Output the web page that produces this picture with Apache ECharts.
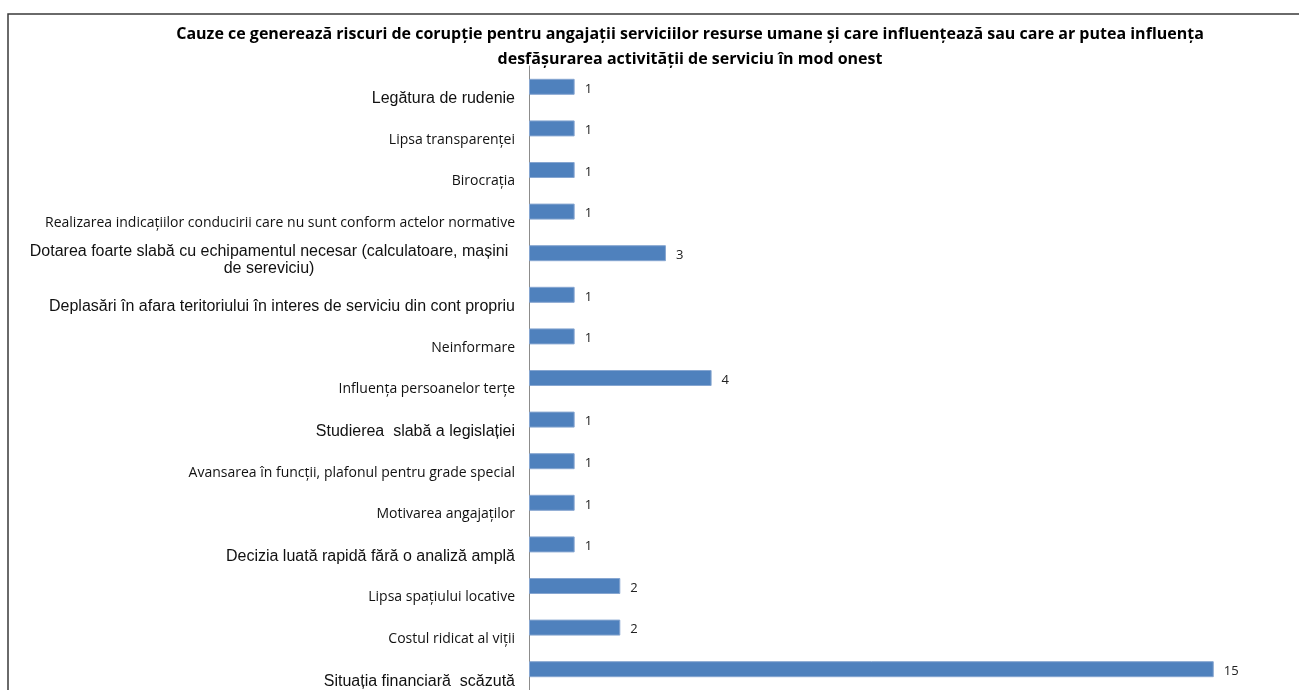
<!DOCTYPE html>
<html>
<head>
    <title>Cauze riscuri de corupție</title>
    <meta http-equiv="Content-Type" content="text/html; charset=utf-8" />
    <script src="https://cdn.jsdelivr.net/npm/echarts@6/dist/echarts.min.js"></script>
    <style>
        html, body { margin: 0; padding: 0; background: #fff; }
        #div_echart { width: 1299px; height: 690px; }
    </style>
</head>
<body>
    <div id="div_echart"></div>
    <script>
        // categorii, de sus in jos
        var categories = [
            'Legătura de rudenie',
            'Lipsa transparenței',
            'Birocrația',
            'Realizarea indicațiilor conducirii care nu sunt conform actelor normative',
            'Dotarea foarte slabă cu echipamentul necesar (calculatoare, mașini\nde sereviciu)',
            'Deplasări în afara teritoriului în interes de serviciu din cont propriu',
            'Neinformare',
            'Influența persoanelor terțe',
            'Studierea  slabă a legislației',
            'Avansarea în funcții, plafonul pentru grade special',
            'Motivarea angajaților',
            'Decizia luată rapidă fără o analiză amplă',
            'Lipsa spațiului locative',
            'Costul ridicat al viții',
            'Situația financiară  scăzută'
        ];
        var values = [1, 1, 1, 1, 3, 1, 1, 4, 1, 1, 1, 1, 2, 2, 15];
        // ce etichete sunt scrise cu fontul mic (tip Calibri)
        var smallFont = [false, true, true, true, false, false, true, true, false, true, true, false, true, true, false];

        var titleText = 'Cauze ce generează riscuri de corupție pentru angajații serviciilor resurse umane și care influențează sau care ar putea influența\n' +
            'desfășurarea activității de serviciu în mod onest';

        var dom = document.getElementById('div_echart');
        var mychart = echarts.init(dom);

        var yData = categories.map(function (c, i) {
            if (i === 4) {
                // eticheta pe doua randuri, a doua linie centrata
                return {
                    value: c,
                    textStyle: {
                        verticalAlign: 'middle',
                        rich: {
                            e: { fontSize: 1, lineHeight: 13 },
                            d: { width: 492, align: 'center', fontSize: 16, lineHeight: 17, fontFamily: 'Liberation Sans', color: '#111' }
                        }
                    }
                };
            }
            if (smallFont[i]) {
                return { value: c, textStyle: { fontFamily: 'Open Sans', fontSize: 14, lineHeight: 23, verticalAlign: 'top' } };
            }
            return c;
        });

        var option = {
            animation: false,
            title: {
                text: titleText,
                left: 685,
                top: 17,
                textAlign: 'center',
                textStyle: {
                    fontFamily: 'Open Sans',
                    fontWeight: 'bold',
                    fontSize: 16,
                    lineHeight: 25,
                    color: '#000'
                }
            },
            graphic: [
                {
                    type: 'rect',
                    shape: { x: 8, y: 14, width: 1400, height: 800 },
                    style: { fill: 'none', stroke: '#3a3a3a', lineWidth: 1.5 },
                    silent: true
                }
            ],
            grid: {
                left: 529,
                top: 66,
                width: 730.4,
                height: 624,
                outerBoundsMode: 'none'
            },
            xAxis: {
                type: 'value',
                min: 0,
                max: 16,
                show: false
            },
            yAxis: {
                type: 'category',
                inverse: true,
                data: yData,
                axisLine: { show: true, lineStyle: { color: '#8c8c8c', width: 1 } },
                axisTick: { show: false },
                axisLabel: {
                    margin: 14,
                    fontFamily: 'Liberation Sans',
                    fontSize: 16,
                    lineHeight: 24,
                    verticalAlign: 'top',
                    color: '#111',
                    formatter: function (v, idx) {
                        if (idx === 4) {
                            return '{e| }\n' + v.split('\n').map(function (s) { return '{d|' + s + '}'; }).join('\n');
                        }
                        return v;
                    }
                }
            },
            series: [
                {
                    type: 'bar',
                    data: values,
                    barWidth: 16,
                    itemStyle: {
                        color: '#4f81bd',
                        borderColor: '#86a6d1',
                        borderWidth: 1
                    },
                    label: {
                        show: true,
                        position: 'right',
                        distance: 10,
                        offset: [0, 2],
                        fontFamily: 'Open Sans',
                        fontSize: 13,
                        color: '#222'
                    }
                }
            ]
        };

        mychart.setOption(option, true);
    </script>
</body>
</html>
